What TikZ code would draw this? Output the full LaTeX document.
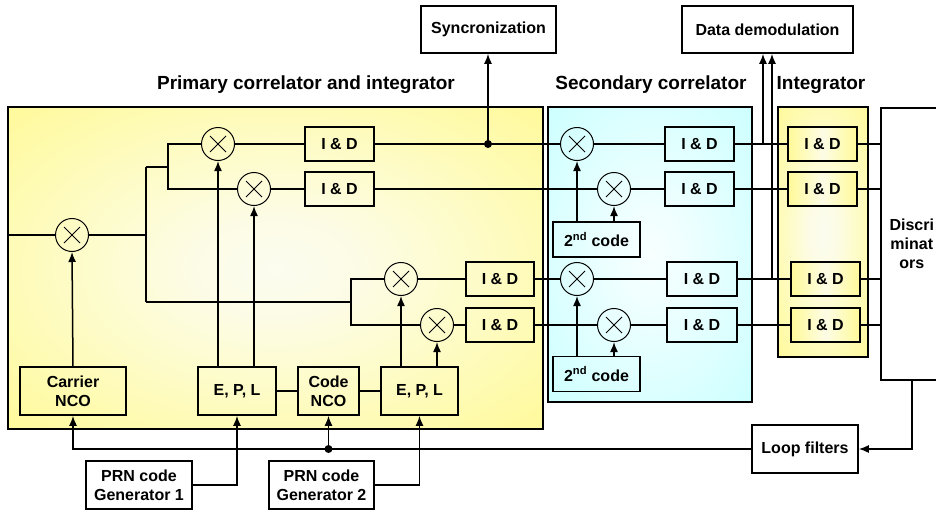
\documentclass[tikz,border=0pt]{standalone}
\usepackage{fontspec}
\setmainfont{Liberation Sans}
\usetikzlibrary{arrows.meta,calc}

\definecolor{ylw}{rgb}{1,0.98,0.6}
\definecolor{ylwlight}{rgb}{0.99,0.99,0.9}

% soft glows for the panels
\pgfdeclareradialshading{yglow}{\pgfpoint{0bp}{0bp}}{rgb(0bp)=(0.99,0.99,0.94); rgb(8bp)=(0.99,0.99,0.9); rgb(36bp)=(1,0.98,0.6); rgb(50bp)=(1,0.98,0.6)}
\pgfdeclareradialshading{cglow}{\pgfpoint{0bp}{0bp}}{rgb(0bp)=(0.97,1,1); rgb(8bp)=(0.94,1,1); rgb(36bp)=(0.8,1,1); rgb(50bp)=(0.8,1,1)}

\begin{document}
\begin{tikzpicture}[x=1pt,y=-1pt,
  blk/.style={draw, line width=1.6pt, inner sep=0pt, align=center,
    font=\bfseries\fontsize{16}{19}\selectfont},
  sz/.style 2 args={minimum width=#1pt, minimum height=#2pt},
  ibox/.style={left color=ylw, right color=ylw, middle color=ylwlight},
  mix/.style={draw, circle, line width=1pt, minimum size=33pt, inner sep=0pt,
    path picture={\draw[line width=0.9pt]
      ([shift={(-8pt,-8pt)}]path picture bounding box.center) -- ([shift={(8pt,8pt)}]path picture bounding box.center)
      ([shift={(-8pt,8pt)}]path picture bounding box.center) -- ([shift={(8pt,-8pt)}]path picture bounding box.center);}},
  ln/.style={line width=1.5pt},
  arr/.style={ln, -{Latex[length=10pt,width=8pt]}},
  jdot/.style={circle, fill, inner sep=0pt, minimum size=8pt},
  head/.style={font=\bfseries\fontsize{19}{22}\selectfont}
]
\clip (0,0) rectangle (936,511);
\fill[white] (0,0) rectangle (936,511);

% panels
\shadedraw[shading=yglow, line width=1.6pt] (8,107) rectangle (543,429);
\shadedraw[shading=cglow, line width=1.6pt] (548,107) rectangle (752,402);
\shadedraw[shading=yglow, line width=1.6pt] (778,107) rectangle (868,357);

% panel titles
\node[head] (hp) at (306,85) {Primary correlator and integrator};
\node[head] (hs) at (651,85) {Secondary correlator};
\node[head] (hi) at (821,85) {Integrator};

% primary correlator and integrator
\node[mix] (mc) at (72,235) {};
\node[mix] (m1) at (218,144) {};
\node[mix] (m2) at (254,189) {};
\node[mix] (m3) at (401,279) {};
\node[mix] (m4) at (437,325) {};
\node[blk, sz={69}{34}] (p1) at (339.5,144) {I \& D};
\node[blk, sz={69}{34}] (p2) at (339.5,189) {I \& D};
\node[blk, sz={68}{34}] (p3) at (500,279) {I \& D};
\node[blk, sz={68}{34}] (p4) at (500,325) {I \& D};
\node[blk, sz={106}{48}] (cnco) at (73,391) {Carrier\\NCO};
\node[blk, sz={78}{48}] (epl1) at (237,391) {E, P, L};
\node[blk, sz={61}{48}] (codenco) at (328.5,391) {Code\\NCO};
\node[blk, sz={77}{48}] (epl2) at (419.5,391) {E, P, L};
\node[blk, sz={106}{48}] (prn1) at (139,485) {PRN code\\Generator 1};
\node[blk, sz={105}{48}] (prn2) at (321.5,485) {PRN code\\Generator 2};

% secondary correlator
\node[mix] (s1) at (577,144) {};
\node[mix] (s2) at (614,189) {};
\node[mix] (s3) at (577,279) {};
\node[mix] (s4) at (614,325) {};
\node[blk, sz={69}{34}] (q1) at (699.5,144) {I \& D};
\node[blk, sz={69}{34}] (q2) at (699.5,189) {I \& D};
\node[blk, sz={70}{34}] (q3) at (702,279) {I \& D};
\node[blk, sz={70}{34}] (q4) at (702,325) {I \& D};
\node[blk, sz={87}{35}] (c2a) at (596.5,239.5) {2\textsuperscript{nd} code};
\node[blk, sz={87}{35}] (c2b) at (596.5,374) {2\textsuperscript{nd} code};

% integrator
\node[blk, ibox, sz={69}{34}] (r1) at (822.5,144) {I \& D};
\node[blk, ibox, sz={69}{34}] (r2) at (822.5,189) {I \& D};
\node[blk, ibox, sz={69}{34}] (r3) at (825.5,279) {I \& D};
\node[blk, ibox, sz={69}{34}] (r4) at (825.5,325) {I \& D};

% outputs
\node[blk, sz={62}{272}, anchor=north west] (disc) at (880,107) {Discri\\minat\\ors};
\node[blk, sz={106}{48}] (lf) at (805,449) {Loop filters};
\node[blk, sz={135}{47}] (sync) at (488.5,29.5) {Syncronization};
\node[blk, sz={171}{47}] (dd) at (767.5,29.5) {Data demodulation};

% junctions
\coordinate (src) at (8,235);
\coordinate (ja) at (146,235);
\coordinate (jb) at (146,167);
\coordinate (jc) at (146,302);
\coordinate (jd) at (168,167);
\coordinate (je) at (351,302);
\coordinate (sy) at (488,144);
\coordinate (da) at (763,144);
\coordinate (db) at (772,279);

% carrier wipe-off and split
\draw[ln] (src) -- (mc.west);
\draw[ln] (mc.east) -- (ja);
\draw[ln] (jb) -- (jc);
\draw[ln] (jb) -- (jd);
\draw[ln] (m1.west) -| (jd) |- (m2.west);
\draw[ln] (jc) -- (je);
\draw[ln] (m3.west) -| (je) |- (m4.west);

% primary rows
\draw[ln] (m1.east) -- (p1.west);
\draw[ln] (m2.east) -- (p2.west);
\draw[ln] (m3.east) -- (p3.west);
\draw[ln] (m4.east) -- (p4.west);
\draw[ln] (p1.east) -- (s1.west);
\draw[ln] (p2.east) -- (s2.west);
\draw[ln] (p3.east) -- (s3.west);
\draw[ln] (p4.east) -- (s4.west);

% secondary rows
\draw[ln] (s1.east) -- (q1.west);
\draw[ln] (s2.east) -- (q2.west);
\draw[ln] (s3.east) -- (q3.west);
\draw[ln] (s4.east) -- (q4.west);
\draw[ln] (q1.east) -- (r1.west);
\draw[ln] (q2.east) -- (r2.west);
\draw[ln] (q3.east) -- (r3.west);
\draw[ln] (q4.east) -- (r4.west);
\draw[ln] (r1.east) -- (r1.east -| disc.west);
\draw[ln] (r2.east) -- (r2.east -| disc.west);
\draw[ln] (r3.east) -- (r3.east -| disc.west);
\draw[ln] (r4.east) -- (r4.east -| disc.west);

% taps to synchronization and data demodulation
\draw[arr] (sy) -- (sy |- sync.south);
\node[jdot] (dsy) at (sy) {};
\draw[arr] (da) -- (da |- dd.south);
\draw[arr] (db) -- (db |- dd.south);

% secondary code inputs
\draw[arr] (s1 |- c2a.north) -- (s1.south);
\draw[arr] (s2 |- c2a.north) -- (s2.south);
\draw[arr] (s3 |- c2b.north) -- (s3.south);
\draw[arr] (s4 |- c2b.north) -- (s4.south);

% local replicas
\draw[arr] (cnco.north) -- (mc.south);
\draw[arr] (m1 |- epl1.north) -- (m1.south);
\draw[arr] (m2 |- epl1.north) -- (m2.south);
\draw[arr] (m3 |- epl2.north) -- (m3.south);
\draw[arr] (m4 |- epl2.north) -- (m4.south);
\draw[ln] (epl1.east) -- (codenco.west);
\draw[ln] (codenco.east) -- (epl2.west);
\draw[arr] (prn1.east) -| (epl1.south);
\draw[arr] (prn2.east) -| (epl2.south);

% tracking loop
\draw[arr] (disc.south) |- (lf.east);
\draw[arr] (lf.west) -| (cnco.south);
\draw[arr] (codenco.south |- lf.west) -- (codenco.south);
\node[jdot] (dlp) at (codenco.south |- lf.west) {};
\end{tikzpicture}
\end{document}
